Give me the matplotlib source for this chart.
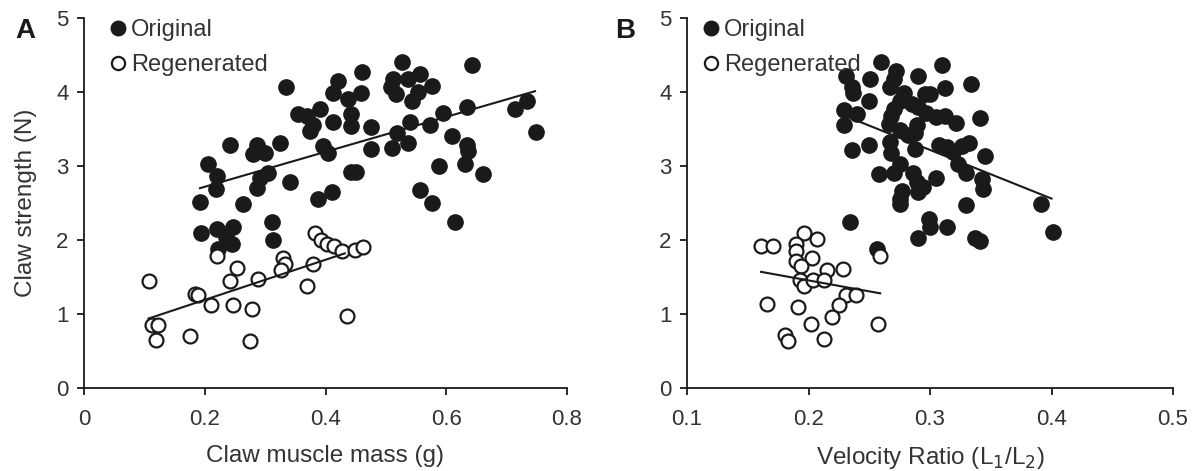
import numpy as np
import matplotlib
matplotlib.use('Agg')
from matplotlib import pyplot as plt

plt.rcParams['font.family'] = ['Liberation Sans', 'DejaVu Sans']

# panel A: claw muscle mass (g) vs claw strength (N)
origA_x = [0.526,0.643,0.461,0.334,0.420,0.413,0.459,0.438,
           0.512,0.537,0.556,0.576,0.509,0.517,0.553,0.544,
           0.634,0.733,0.714,0.749,0.595,0.573,0.540,0.518,
           0.609,0.634,0.636,0.631,0.661,0.588,0.537,0.510,
           0.476,0.476,0.443,0.442,0.413,0.391,0.355,0.369,
           0.380,0.374,0.396,0.404,0.443,0.451,0.410,0.388,
           0.342,0.325,0.286,0.280,0.300,0.242,0.206,0.220,
           0.219,0.192,0.264,0.291,0.305,0.286,0.556,0.576,
           0.614,0.193,0.220,0.246,0.236,0.245,0.222,0.311,0.313]
origA_y = [4.41,4.36,4.27,4.07,4.15,3.98,3.98,3.91,
           4.17,4.18,4.24,4.08,4.07,3.97,4.00,3.88,
           3.80,3.88,3.77,3.46,3.71,3.55,3.60,3.45,
           3.41,3.29,3.20,3.02,2.89,3.00,3.31,3.24,
           3.52,3.23,3.70,3.54,3.60,3.77,3.70,3.67,
           3.56,3.47,3.27,3.17,2.92,2.92,2.65,2.55,
           2.78,3.31,3.29,3.16,3.18,3.29,3.02,2.86,
           2.69,2.51,2.48,2.84,2.91,2.70,2.68,2.50,
           2.25,2.10,2.15,2.18,2.04,1.95,1.88,2.24,2.00]
regenA_x = [0.382,0.392,0.402,0.414,0.427,0.449,0.462,0.220,
            0.330,0.333,0.327,0.254,0.379,0.241,0.289,0.369,
            0.107,0.184,0.189,0.211,0.247,0.279,0.435,0.112,
            0.123,0.120,0.175,0.275]
regenA_y = [2.09,2.00,1.94,1.92,1.85,1.87,1.91,1.78,
            1.76,1.67,1.60,1.62,1.68,1.45,1.47,1.38,
            1.44,1.27,1.26,1.12,1.12,1.07,0.97,0.85,
            0.85,0.65,0.70,0.63]
fitA_orig_x = [0.192, 0.747]
fitA_orig_y = [2.70, 4.01]
fitA_regen_x = [0.107, 0.432]
fitA_regen_y = [0.94, 1.82]

# panel B: velocity ratio vs claw strength (N)
origB_x = [0.260,0.310,0.231,0.251,0.272,0.270,0.267,0.290,
           0.334,0.236,0.237,0.312,0.279,0.296,0.300,0.250,
           0.275,0.285,0.290,0.270,0.268,0.229,0.240,0.297,
           0.305,0.312,0.321,0.341,0.229,0.266,0.275,0.282,
           0.289,0.288,0.267,0.268,0.250,0.236,0.288,0.307,
           0.314,0.319,0.326,0.332,0.345,0.323,0.330,0.275,
           0.270,0.258,0.286,0.289,0.294,0.290,0.305,0.343,
           0.344,0.277,0.275,0.275,0.330,0.391,0.234,0.299,
           0.300,0.314,0.290,0.337,0.341,0.401,0.256]
origB_y = [4.40,4.37,4.21,4.18,4.28,4.17,4.06,4.22,
           4.11,4.06,3.99,4.05,3.98,3.97,3.97,3.88,
           3.88,3.84,3.79,3.77,3.68,3.76,3.70,3.72,
           3.66,3.67,3.58,3.65,3.55,3.57,3.48,3.42,
           3.55,3.45,3.32,3.18,3.28,3.21,3.23,3.28,
           3.26,3.19,3.27,3.31,3.14,3.02,2.91,3.02,
           2.91,2.89,2.91,2.79,2.71,2.65,2.84,2.82,
           2.69,2.66,2.56,2.49,2.47,2.49,2.24,2.28,
           2.17,2.17,2.03,2.03,1.99,2.11,1.88]
regenB_x = [0.161,0.171,0.196,0.207,0.190,0.190,0.203,0.190,
            0.194,0.215,0.228,0.193,0.196,0.204,0.213,0.231,
            0.239,0.166,0.191,0.225,0.219,0.202,0.257,0.181,
            0.183,0.213,0.259]
regenB_y = [1.92,1.92,2.09,2.02,1.94,1.85,1.76,1.72,
            1.65,1.60,1.61,1.46,1.38,1.46,1.46,1.26,
            1.26,1.14,1.09,1.12,0.96,0.87,0.87,0.72,
            0.64,0.66,1.79]
fitB_orig_x = [0.231, 0.400]
fitB_orig_y = [3.67, 2.56]
fitB_regen_x = [0.161, 0.259]
fitB_regen_y = [1.57, 1.28]

ink = '#1a1a1a'
txt = '#333333'

fig = plt.figure(figsize=(12, 4.71), dpi=100)
axA = fig.add_axes([0.070, 0.176, 0.4025, 0.786])
axB = fig.add_axes([0.5725, 0.176, 0.405, 0.786])

def draw(ax, ox, oy, rx, ry, fox, foy, frx, fry, xlim, xticks, xlabels, lx):
	ax.plot(ox, oy, 'o', ls='none', ms=11, mfc=ink, mec=ink, mew=1.0, label='Original')
	ax.plot(rx, ry, 'o', ls='none', ms=10, mfc='white', mec=ink, mew=1.6, label='Regenerated')
	ax.plot(fox, foy, color=ink, lw=1.5)
	ax.plot(frx, fry, color=ink, lw=1.5)
	ax.set_xlim(xlim)
	ax.set_ylim(0, 5)
	ax.set_xticks(xticks)
	ax.set_xticklabels(xlabels)
	ax.set_yticks([0, 1, 2, 3, 4, 5])
	for s in ['top', 'right']:
		ax.spines[s].set_visible(False)
	for s in ['left', 'bottom']:
		ax.spines[s].set_linewidth(1.3)
		ax.spines[s].set_color(ink)
	ax.tick_params(direction='out', length=5, width=1.3, color=ink, labelcolor=txt, labelsize=16)
	ax.tick_params(axis='x', pad=10)
	ax.tick_params(axis='y', pad=6)
	ax.patch.set_alpha(0)
	leg = ax.legend(loc='upper left', bbox_to_anchor=(lx, 1.028), frameon=False, fontsize=17,
		handlelength=0.5, handletextpad=0.3, labelspacing=0.55, borderpad=0, markerscale=0.95)
	for t in leg.get_texts():
		t.set_color(txt)

draw(axA, origA_x, origA_y, regenA_x, regenA_y, fitA_orig_x, fitA_orig_y, fitA_regen_x, fitA_regen_y,
	(0, 0.8), [0, 0.2, 0.4, 0.6, 0.8], ['0', '0.2', '0.4', '0.6', '0.8'], 0.033)
draw(axB, origB_x, origB_y, regenB_x, regenB_y, fitB_orig_x, fitB_orig_y, fitB_regen_x, fitB_regen_y,
	(0.1, 0.5), [0.1, 0.2, 0.3, 0.4, 0.5], ['0.1', '0.2', '0.3', '0.4', '0.5'], 0.013)

axA.set_xlabel('Claw muscle mass (g)', fontsize=17.5, color=txt, labelpad=11)
axB.set_xlabel('Velocity Ratio (L$_1$/L$_2$)', fontsize=17.5, color=txt, labelpad=11)
axA.set_ylabel('Claw strength (N)', fontsize=17.5, color=txt, labelpad=14)

fig.text(0.021, 0.935, 'A', fontsize=20, fontweight='bold', color=ink, ha='center', va='center')
fig.text(0.521, 0.935, 'B', fontsize=20, fontweight='bold', color=ink, ha='center', va='center')

fig.savefig('out.png', dpi=100)
